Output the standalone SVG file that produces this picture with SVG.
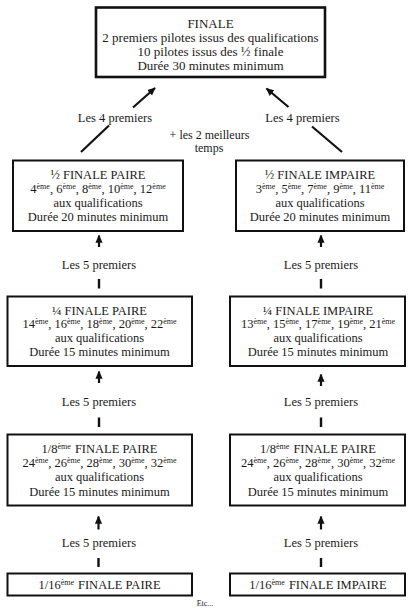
<svg xmlns="http://www.w3.org/2000/svg" width="408" height="608" viewBox="0 0 408 608">
<defs>
<style>
text{font-family:"Liberation Serif","Times New Roman",serif;fill:#1a1a1a;text-anchor:middle;font-size:12.5px}
.ft{font-size:13px}
.sm{font-size:12px}
.sup{font-size:8px}
.box{fill:#fff;stroke:#111;stroke-width:2}
.fbox{fill:#fff;stroke:#111;stroke-width:2.6}
.ln{stroke:#111;stroke-width:2.2;fill:none}
.bar{stroke:#111;stroke-width:2.4}
.etc{font-size:8px}
</style>
<marker id="ah" viewBox="0 0 10 10" refX="9" refY="5" markerWidth="8" markerHeight="8" markerUnits="userSpaceOnUse" orient="auto">
<path d="M0,0.5 L10,5 L0,9.5 z" fill="#111"/>
</marker>
</defs>
<rect width="408" height="608" fill="#fff"/>

<g id="finale">
<rect class="fbox" x="96" y="7.5" width="229" height="69.5"/>
<text class="ft" x="210.5" y="27.5">FINALE</text>
<text class="ft" x="210.5" y="41.5">2 premiers pilotes issus des qualifications</text>
<text class="ft" x="210.5" y="55.5">10 pilotes issus des ½ finale</text>
<text class="ft" x="210.5" y="70">Durée 30 minutes minimum</text>
</g>

<g id="demi-paire">
<rect class="box" x="13" y="160.5" width="170" height="70.5"/>
<text x="98" y="179">½ FINALE PAIRE</text>
<text x="98" y="192.5">4<tspan class="sup" dy="-4">ème</tspan><tspan dy="4">, 6</tspan><tspan class="sup" dy="-4">ème</tspan><tspan dy="4">, 8</tspan><tspan class="sup" dy="-4">ème</tspan><tspan dy="4">, 10</tspan><tspan class="sup" dy="-4">ème</tspan><tspan dy="4">, 12</tspan><tspan class="sup" dy="-4">ème</tspan></text>
<text x="98" y="206.5">aux qualifications</text>
<text x="98" y="220.5">Durée 20 minutes minimum</text>
</g>

<g id="demi-impaire">
<rect class="box" x="236" y="160.5" width="168" height="70.5"/>
<text x="320" y="179">½ FINALE IMPAIRE</text>
<text x="320" y="192.5">3<tspan class="sup" dy="-4">ème</tspan><tspan dy="4">, 5</tspan><tspan class="sup" dy="-4">ème</tspan><tspan dy="4">, 7</tspan><tspan class="sup" dy="-4">ème</tspan><tspan dy="4">, 9</tspan><tspan class="sup" dy="-4">ème</tspan><tspan dy="4">, 11</tspan><tspan class="sup" dy="-4">ème</tspan></text>
<text x="320" y="206.5">aux qualifications</text>
<text x="320" y="220.5">Durée 20 minutes minimum</text>
</g>

<g id="quart-paire">
<rect class="box" x="7.5" y="296.5" width="184.5" height="69.5"/>
<text x="99.5" y="314.5">¼ FINALE PAIRE</text>
<text x="99.5" y="328">14<tspan class="sup" dy="-4">ème</tspan><tspan dy="4">, 16</tspan><tspan class="sup" dy="-4">ème</tspan><tspan dy="4">, 18</tspan><tspan class="sup" dy="-4">ème</tspan><tspan dy="4">, 20</tspan><tspan class="sup" dy="-4">ème</tspan><tspan dy="4">, 22</tspan><tspan class="sup" dy="-4">ème</tspan></text>
<text x="99.5" y="342">aux qualifications</text>
<text x="99.5" y="356">Durée 15 minutes minimum</text>
</g>

<g id="quart-impaire">
<rect class="box" x="230" y="296.5" width="175" height="69.5"/>
<text x="318" y="314.5">¼ FINALE IMPAIRE</text>
<text x="318" y="328">13<tspan class="sup" dy="-4">ème</tspan><tspan dy="4">, 15</tspan><tspan class="sup" dy="-4">ème</tspan><tspan dy="4">, 17</tspan><tspan class="sup" dy="-4">ème</tspan><tspan dy="4">, 19</tspan><tspan class="sup" dy="-4">ème</tspan><tspan dy="4">, 21</tspan><tspan class="sup" dy="-4">ème</tspan></text>
<text x="318" y="342">aux qualifications</text>
<text x="318" y="356">Durée 15 minutes minimum</text>
</g>

<g id="huitieme-paire">
<rect class="box" x="7.5" y="434.5" width="184.5" height="71"/>
<text x="99.5" y="453">1/8<tspan class="sup" dy="-4">ème</tspan><tspan dy="4" dx="4">FINALE PAIRE</tspan></text>
<text x="99.5" y="467">24<tspan class="sup" dy="-4">ème</tspan><tspan dy="4">, 26</tspan><tspan class="sup" dy="-4">ème</tspan><tspan dy="4">, 28</tspan><tspan class="sup" dy="-4">ème</tspan><tspan dy="4">, 30</tspan><tspan class="sup" dy="-4">ème</tspan><tspan dy="4">, 32</tspan><tspan class="sup" dy="-4">ème</tspan></text>
<text x="99.5" y="481">aux qualifications</text>
<text x="99.5" y="495.5">Durée 15 minutes minimum</text>
</g>

<g id="huitieme-impaire">
<rect class="box" x="230" y="434.5" width="175" height="71"/>
<text x="318" y="453">1/8<tspan class="sup" dy="-4">ème</tspan><tspan dy="4" dx="4">FINALE PAIRE</tspan></text>
<text x="318" y="467">24<tspan class="sup" dy="-4">ème</tspan><tspan dy="4">, 26</tspan><tspan class="sup" dy="-4">ème</tspan><tspan dy="4">, 28</tspan><tspan class="sup" dy="-4">ème</tspan><tspan dy="4">, 30</tspan><tspan class="sup" dy="-4">ème</tspan><tspan dy="4">, 32</tspan><tspan class="sup" dy="-4">ème</tspan></text>
<text x="318" y="481">aux qualifications</text>
<text x="318" y="495.5">Durée 15 minutes minimum</text>
</g>

<g id="seizieme-paire">
<rect class="box" x="7.5" y="573.5" width="184.5" height="22"/>
<text x="99.5" y="589">1/16<tspan class="sup" dy="-4">ème</tspan><tspan dy="4" dx="4">FINALE PAIRE</tspan></text>
</g>

<g id="seizieme-impaire">
<rect class="box" x="230" y="573.5" width="175" height="22"/>
<text x="318" y="589">1/16<tspan class="sup" dy="-4">ème</tspan><tspan dy="4" dx="4">FINALE IMPAIRE</tspan></text>
</g>

<g id="connectors">
<line class="ln" x1="133" y1="107.5" x2="155" y2="88" marker-end="url(#ah)"/>
<line class="ln" x1="109" y1="125.5" x2="81" y2="152"/>
<text x="115" y="121.5">Les 4 premiers</text>
<line class="ln" x1="288.5" y1="107" x2="266.5" y2="88.5" marker-end="url(#ah)"/>
<line class="ln" x1="312" y1="126.5" x2="342" y2="152"/>
<text x="302.5" y="121.5">Les 4 premiers</text>
<text class="sm" x="209.5" y="138.5">+ les 2 meilleurs</text>
<text class="sm" x="209" y="152">temps</text>

<line class="ln" x1="99" y1="247" x2="99" y2="235.5" marker-end="url(#ah)"/>
<text x="99" y="268.5">Les 5 premiers</text>
<line class="bar" x1="99" y1="279" x2="99" y2="288.5"/>
<line class="ln" x1="321" y1="247" x2="321" y2="235.5" marker-end="url(#ah)"/>
<text x="321" y="268.5">Les 5 premiers</text>
<line class="bar" x1="321" y1="279" x2="321" y2="288.5"/>

<line class="ln" x1="99" y1="383" x2="99" y2="371.5" marker-end="url(#ah)"/>
<text x="99" y="406">Les 5 premiers</text>
<line class="bar" x1="99" y1="417.5" x2="99" y2="427"/>
<line class="ln" x1="321" y1="386" x2="321" y2="374.5" marker-end="url(#ah)"/>
<text x="321" y="406">Les 5 premiers</text>
<line class="bar" x1="321" y1="417.5" x2="321" y2="427"/>

<line class="ln" x1="98.5" y1="529.5" x2="98.5" y2="516.5" marker-end="url(#ah)"/>
<text x="99" y="547">Les 5 premiers</text>
<line class="bar" x1="98.5" y1="558" x2="98.5" y2="567"/>
<line class="ln" x1="321" y1="529.5" x2="321" y2="516.5" marker-end="url(#ah)"/>
<text x="321" y="547">Les 5 premiers</text>
<line class="bar" x1="321" y1="558" x2="321" y2="567"/>
</g>

<text class="etc" x="205" y="606">Etc...</text>
</svg>
